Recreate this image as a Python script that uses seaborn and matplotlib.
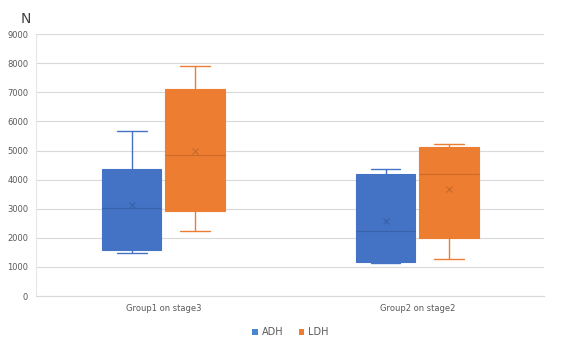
import pandas as pd
import matplotlib.pyplot as plt
import seaborn as sns

# raw values read so the box stats match the picture (min, q1, median, q3, max, mean)
groups = ['Group1 on stage3', 'Group2 on stage2']
series = ['ADH', 'LDH']
g1_adh = [1480, 1530, 1580, 2000, 3020, 3600, 4360, 4930, 5670]
g1_ldh = [2230, 2500, 2920, 3600, 4845, 6200, 7110, 7515, 7900]
g2_adh = [1135, 1150, 1170, 1600, 2230, 3100, 4190, 4240, 4360]
g2_ldh = [1270, 1700, 1990, 3500, 4190, 4950, 5120, 5180, 5220]
colors = ['#4472C4', '#ED7D31']
dark = ['#3A62AA', '#CC6A28']

rows = []
for grp, adh, ldh in [(groups[0], g1_adh, g1_ldh), (groups[1], g2_adh, g2_ldh)]:
    for v in adh:
        rows.append({'group': grp, 'enzyme': 'ADH', 'N': v})
    for v in ldh:
        rows.append({'group': grp, 'enzyme': 'LDH', 'N': v})
df = pd.DataFrame(rows)

sns.set_theme(style='white')
plt.rcParams['font.family'] = ['DejaVu Sans']

fig = plt.figure(figsize=(5.61, 3.45), dpi=100)
ax = fig.add_axes([0.065, 0.142, 0.905, 0.759])

sns.boxplot(data=df, x='group', y='N', hue='enzyme', order=groups, hue_order=series,
            palette=colors, width=0.5, gap=0.06, whis=1.5, showmeans=True,
            meanprops={'marker': 'x', 'markersize': 5, 'markeredgewidth': 0.9},
            linewidth=0.8, legend=True, ax=ax)

for cont, c, d in zip(ax.containers, colors, dark):
    for b in cont.boxes:
        b.set_facecolor(c)
        b.set_edgecolor(c)
    for ln in list(cont.whiskers) + list(cont.caps):
        ln.set_color(c)
        ln.set_linewidth(1.0)
    for ln in cont.medians:
        ln.set_color(d)
    for ln in cont.means:
        ln.set_markeredgecolor(d)
        ln.set_markerfacecolor(d)

ax.set_ylim(0, 9000)
ax.set_yticks(range(0, 9001, 1000))
ax.yaxis.grid(True, color='#D9D9D9', linewidth=0.8)
ax.set_axisbelow(True)
ax.set_xlabel('')
ax.set_ylabel('')
ax.tick_params(axis='both', labelsize=6, colors='#595959', length=0, pad=6)
for s in ['top', 'right']:
    ax.spines[s].set_visible(False)
ax.spines['left'].set_color('#E6E6E6')
ax.spines['bottom'].set_color('#D9D9D9')
ax.spines['left'].set_linewidth(0.8)
ax.spines['bottom'].set_linewidth(0.8)

fig.text(0.046, 0.945, 'N', fontsize=10, color='#404040', ha='center', va='center')

handles, labels = ax.get_legend_handles_labels()
legend_cols = ['#4A86D0', '#ED7D31']
for h, c in zip(handles, legend_cols):
    h.set_edgecolor('none')
    h.set_facecolor(c)
ax.legend(handles, labels, loc='upper center', bbox_to_anchor=(0.5, -0.085), ncol=2,
          frameon=False, fontsize=7, handlelength=0.6, handleheight=0.6,
          columnspacing=1.6, handletextpad=0.4, labelcolor='#595959')

fig.savefig('out.png', dpi=100)
